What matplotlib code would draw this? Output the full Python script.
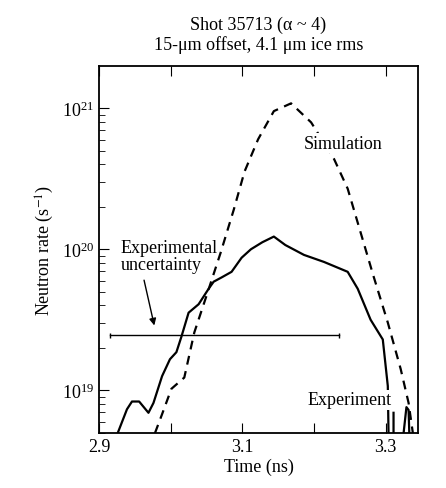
import numpy as np
import matplotlib
matplotlib.use('Agg')
from matplotlib import pyplot as plt

plt.rcParams['font.family'] = ['Liberation Serif', 'DejaVu Serif']
plt.rcParams['mathtext.fontset'] = 'stix'

# experiment (log10 of neutron rate), NaN separates pieces
exp_t = [2.926, 2.939, 2.946, 2.956, 2.969, 2.976, 2.988, 2.999, 3.008, 3.015, 3.025,
         3.039, 3.053, 3.060, 3.071, 3.085, 3.099, 3.112, 3.128, 3.144, 3.160, 3.186,
         3.214, 3.247, 3.261, 3.279, 3.296, 3.303, 3.304, np.nan, 3.311, 3.311, np.nan,
         3.325, 3.329, 3.332, 3.333]
exp_log = [18.695, 18.865, 18.92, 18.92, 18.84, 18.91, 19.10, 19.22, 19.27, 19.38, 19.55,
           19.61, 19.72, 19.77, 19.80, 19.84, 19.94, 20.00, 20.05, 20.09, 20.03, 19.96,
           19.91, 19.84, 19.72, 19.50, 19.36, 19.03, 18.695, np.nan, 18.695, 18.84, np.nan,
           18.695, 18.88, 18.86, 18.695]

sim_t = [2.978, 2.988, 3.001, 3.019, 3.033, 3.050, 3.070, 3.088, 3.103, 3.122, 3.144,
         3.168, 3.196, 3.228, 3.247, 3.265, 3.283, 3.303, 3.321, 3.332, 3.338]
sim_log = [18.695, 18.83, 19.01, 19.09, 19.41, 19.67, 19.98, 20.28, 20.55, 20.78, 20.98,
           21.035, 20.90, 20.64, 20.43, 20.12, 19.81, 19.48, 19.15, 18.91, 18.695]

unc_t = [2.915, 3.235]
unc_y = 2.45e19

fig = plt.figure(figsize=(4.46, 4.89), dpi=100)
ax = fig.add_axes([0.222, 0.112, 0.715, 0.751])
ax.semilogy(exp_t, 10**np.array(exp_log), 'k-', lw=1.6)
ax.semilogy(sim_t, 10**np.array(sim_log), 'k--', lw=1.6, dashes=(4, 3))
ax.errorbar(unc_t, [unc_y, unc_y], yerr=[[0.09e19, 0.09e19], [0.1e19, 0.1e19]],
            color='k', lw=1.0, capsize=0, elinewidth=1.0)
ax.set_xlim(2.9, 3.345)
ax.set_ylim(10**18.695, 10**21.30)
ax.set_xticks([2.9, 3.0, 3.1, 3.2, 3.3])
ax.set_xticklabels(['2.9', '', '3.1', '', '3.3'])
ax.set_yticks([1e19, 1e20, 1e21])
ax.tick_params(which='both', direction='in', top=True, labelsize=13)
ax.tick_params(which='major', length=7)
ax.tick_params(which='minor', length=4)
ax.set_xlabel('Time (ns)', fontsize=13, labelpad=2)
ax.set_ylabel('Neutron rate (s$^{-1}$)', fontsize=13)
ax.set_title('Shot 35713 (α ~ 4)\n15-μm offset, 4.1 μm ice rms',
             fontsize=13, pad=12)
ax.text(3.24, 10**20.72, 'Simulation', fontsize=13, ha='center', zorder=5,
        bbox=dict(facecolor='white', edgecolor='none', pad=1))
ax.text(3.25, 10**18.90, 'Experiment', fontsize=13, ha='center', zorder=5,
        bbox=dict(facecolor='white', edgecolor='none', pad=1))
ax.text(2.93, 10**19.86, 'Experimental\nuncertainty', fontsize=13, ha='left',
        linespacing=1.0)
ax.annotate('', xy=(2.978, 10**19.44), xytext=(2.962, 10**19.80),
            arrowprops=dict(arrowstyle='-|>', color='k', lw=1))
for s in ax.spines.values():
    s.set_linewidth(1.3)
fig.savefig('out.png', dpi=100)
